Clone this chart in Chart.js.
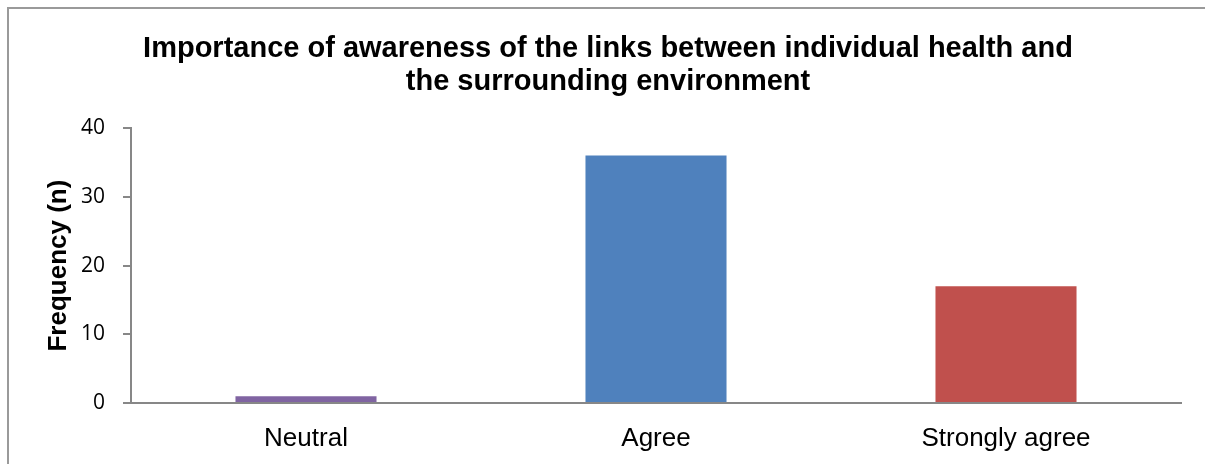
<!DOCTYPE html>
<html>
<head>
<meta charset="utf-8">
<title>Awareness of health and environment links</title>
<script src="https://cdn.jsdelivr.net/npm/chart.js@4"></script>
<style>
  body { margin: 0; background: #fff; overflow: hidden; }
  #wrap { position: relative; width: 1205px; height: 464px; overflow: hidden; }
  #frame {
    position: absolute; left: 7px; top: 7px; width: 1400px; height: 600px;
    border-left: 2px solid #9a9a9a; border-top: 2px solid #9a9a9a;
  }
  #chart { position: absolute; left: 0; top: 0; }
</style>
</head>
<body>
<div id="wrap">
  <div id="frame"></div>
  <canvas id="chart" width="1240" height="464"></canvas>
</div>
<script>
// survey answers and how many respondents gave each
var categories = ["Neutral", "Agree", "Strongly agree"];
var frequency = [1, 36, 17];
var barColors = ["#8064A2", "#4F81BD", "#C0504D"];
var yTicks = [0, 10, 20, 30, 40];

var axisGray = "#878787";
var arial = "'Liberation Sans', Arial, sans-serif";

var ctx = document.getElementById("chart").getContext("2d");
var chart = new Chart(ctx, {
  type: "bar",
  data: {
    labels: categories,
    datasets: [{
      label: "Frequency",
      data: frequency,
      backgroundColor: barColors,
      borderWidth: 0,
      categoryPercentage: 1,
      barPercentage: 0.403
    }]
  },
  options: {
    responsive: false,
    animation: false,
    layout: { padding: { left: 0, right: 24, top: 0, bottom: 0 } },
    plugins: {
      legend: { display: false },
      tooltip: { enabled: false },
      title: {
        display: true,
        text: ["Importance of awareness of the links between individual health and",
               "the surrounding environment"],
        color: "#000",
        font: { family: arial, size: 29, weight: "bold", lineHeight: 1.14 },
        padding: { top: 32, bottom: 30 }
      }
    },
    scales: {
      x: {
        afterFit: function (axis) { axis.height = 61; },
        grid: { drawOnChartArea: false, drawTicks: false },
        border: { color: axisGray, width: 2 },
        ticks: {
          color: "#000",
          padding: 20,
          font: { family: arial, size: 26 }
        }
      },
      y: {
        min: 0,
        max: 40,
        afterBuildTicks: function (axis) {
          axis.ticks = yTicks.map(function (v) { return { value: v }; });
        },
        afterFit: function (axis) { axis.width = 131; },
        grid: { drawOnChartArea: false, drawTicks: true, tickLength: 8, color: axisGray, lineWidth: 2 },
        border: { color: axisGray, width: 2 },
        ticks: {
          color: "#000",
          padding: 18,
          font: { family: "'Open Sans', 'Noto Sans', sans-serif", size: 21 }
        },
        title: {
          display: true,
          text: "Frequency (n)",
          color: "#000",
          padding: { top: 43, bottom: 0 },
          font: { family: arial, size: 26, weight: "bold" }
        }
      },
      // empty right-hand margin so the title centres across the whole frame
      yRight: {
        position: "right",
        afterFit: function (axis) { axis.width = 35; },
        grid: { display: false },
        border: { display: false },
        ticks: { display: false }
      }
    }
  }
});
</script>
</body>
</html>
